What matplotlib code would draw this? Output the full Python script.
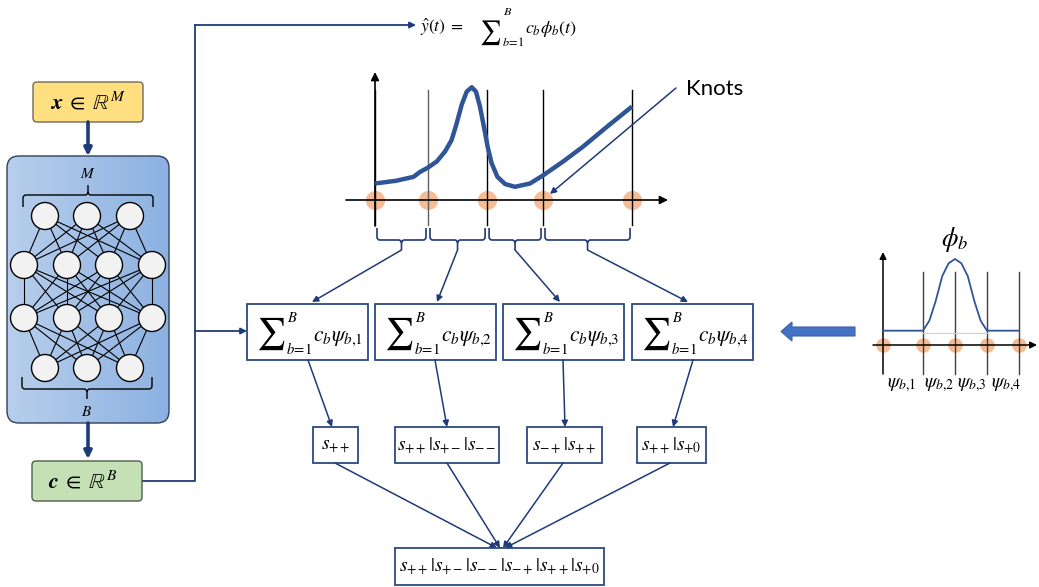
import numpy as np
import matplotlib
matplotlib.use("Agg")
import matplotlib.pyplot as plt
from matplotlib.patches import FancyBboxPatch, Rectangle, Circle, FancyArrow
from matplotlib.path import Path
from matplotlib.patches import PathPatch
from matplotlib.transforms import Affine2D

plt.rcParams["mathtext.fontset"] = "stix"

# ---------------------------------------------------------------- data
layer_sizes = [3, 4, 4, 3]
input_label = r"$\mathbfit{x}\;\in\;\mathbb{R}^{M}$"
coef_label = r"$\mathbfit{c}\;\in\;\mathbb{R}^{B}$"

# example output curve y(t) and its knots
knot_t = [0.0, 2.0, 4.23, 6.34, 9.7]
curve_t = [0.0, 0.8, 1.45, 1.7, 2.0, 2.33, 2.64, 2.89, 3.08, 3.27, 3.46, 3.65,
           3.81, 3.96, 4.11, 4.25, 4.4, 4.62, 4.91, 5.28, 5.85, 6.35, 7.1,
           7.85, 8.75, 9.7]
curve_v = [1.5, 1.75, 2.1, 2.55, 2.95, 3.5, 4.4, 5.45, 6.95, 8.65, 9.85, 10.25,
           9.85, 8.5, 6.65, 4.85, 3.35, 2.1, 1.45, 1.2, 1.5, 2.25, 3.5,
           4.85, 6.65, 8.5]

# single basis function phi_b and its knots
basis_knot_u = [0.0, 1.25, 2.25, 3.25, 4.25]
phi_u = [0.0, 1.25, 1.45, 1.65, 1.85, 2.05, 2.25, 2.45, 2.65, 2.85, 3.05, 3.25, 4.25]
phi_v = [1.0, 1.0, 1.7, 3.1, 4.8, 5.7, 6.0, 5.7, 4.8, 3.1, 1.7, 1.0, 1.0]

segments = [1, 2, 3, 4]
segment_states = [["++"], ["++", "+-", "--"], ["-+", "++"], ["++", "+0"]]

# ---------------------------------------------------------------- styles
NAVY = "#1F3A78"
BOX_EDGE = "#2B4A80"
CURVE = "#2F5597"
KNOT = "#F4B183"

fig = plt.figure(figsize=(10.39, 5.87), dpi=100)
ax = fig.add_axes([0, 0, 1, 1])
ax.set_xlim(0, 1039)
ax.set_ylim(587, 0)
ax.axis("off")
renderer = fig.canvas.get_renderer()


def extent(artist):
    bb = artist.get_window_extent(renderer)
    (x0, y0), (x1, y1) = ax.transData.inverted().transform([[bb.x0, bb.y0], [bb.x1, bb.y1]])
    return min(x0, x1), min(y0, y1), max(x0, x1), max(y0, y1)


def arrow(p0, p1, lw=1.1, color=NAVY, ms=9):
    ax.annotate("", xy=p1, xytext=p0,
                arrowprops=dict(arrowstyle="-|>", color=color, lw=lw,
                                mutation_scale=ms, shrinkA=0, shrinkB=0))


def box(x0, y0, x1, y1, ec=BOX_EDGE, fc="white", lw=1.3):
    ax.add_patch(Rectangle((x0, y0), x1 - x0, y1 - y0, fc=fc, ec=ec, lw=lw, zorder=3))


def brace(x0, x1, y_end, y_bar, y_tip, color, lw=1.2):
    r = 3 if y_tip > y_bar else -3
    xm = (x0 + x1) / 2
    verts = [(x0, y_end), (x0, y_bar - r), (x0, y_bar), (x0 + 3, y_bar),
             (xm - 3, y_bar), (xm, y_bar), (xm, y_bar + r), (xm, y_tip),
             (xm, y_bar + r), (xm, y_bar), (xm + 3, y_bar),
             (x1 - 3, y_bar), (x1, y_bar), (x1, y_bar - r), (x1, y_end)]
    codes = [Path.MOVETO, Path.LINETO, Path.CURVE3, Path.CURVE3,
             Path.LINETO, Path.CURVE3, Path.CURVE3, Path.LINETO,
             Path.MOVETO, Path.CURVE3, Path.CURVE3,
             Path.LINETO, Path.CURVE3, Path.CURVE3, Path.LINETO]
    ax.add_patch(PathPatch(Path(verts, codes), fc="none", ec=color, lw=lw, zorder=4))


def sum_expr(x, yc, term, size, big, sup_dy, sub_dy, base_dy):
    """Sum with limits at the side: sigma at x, centred on yc, then the term."""
    s = ax.text(x, yc, r"$\sum$", fontsize=big, ha="left", va="center", zorder=5)
    sx1 = extent(s)[2]
    sup = ax.text(sx1 + 1.5, yc + sup_dy, r"$B$", fontsize=size * 0.68,
                  ha="left", va="center", zorder=5)
    sub = ax.text(sx1 + 0.5, yc + sub_dy, r"$b\!=\!1$", fontsize=size * 0.68,
                  ha="left", va="center", zorder=5)
    right = max(extent(sup)[2], extent(sub)[2])
    ax.text(right + 1.5, yc + base_dy, "$" + term + "$", fontsize=size,
            ha="left", va="baseline", zorder=5)


# ---------------------------------------------------------------- network
ax.add_patch(FancyBboxPatch((33, 82), 110, 40, boxstyle="round,pad=0,rounding_size=4",
                            fc="#FFDF80", ec="#6F6A5A", lw=1.0, zorder=3))
ax.text(88, 102, input_label, fontsize=16, ha="center", va="center", zorder=5)
arrow((88, 122), (88, 156), lw=2.6, ms=11)

nn_patch = FancyBboxPatch((7, 156), 162, 267, boxstyle="round,pad=0,rounding_size=12",
                          fc="none", ec="#2F3F5F", lw=1.0, zorder=3)
ax.add_patch(nn_patch)
grad = np.linspace(0, 1, 256).reshape(1, -1)
cmap = matplotlib.colors.LinearSegmentedColormap.from_list("nn", ["#B8CFEC", "#8CB1E1"])
im = ax.imshow(grad, extent=(7, 169, 423, 156), cmap=cmap, aspect="auto", zorder=1)
im.set_clip_path(nn_patch)

layer_y = [216, 265, 318, 368]
layer_x = {3: [45, 87, 130], 4: [24, 67, 109, 152]}
node_pos = [[(x, y) for x in layer_x[n]] for n, y in zip(layer_sizes, layer_y)]
for la, lb in zip(node_pos[:-1], node_pos[1:]):
    for (xa, ya) in la:
        for (xb, yb) in lb:
            ax.plot([xa, xb], [ya, yb], color="black", lw=0.8, zorder=2)
for layer in node_pos:
    for (x, y) in layer:
        ax.add_patch(Circle((x, y), 13.5, fc="#F2F2F2", ec="black", lw=1.0, zorder=4))

brace(23, 153, 207, 195, 185, "black", lw=1.0)
ax.text(88, 174, "$M$", fontsize=11, ha="center", va="center")
brace(22, 152, 377, 389, 399, "black", lw=1.0)
ax.text(87, 412, "$B$", fontsize=11, ha="center", va="center")

arrow((88, 423), (88, 459), lw=2.6, ms=11)
ax.add_patch(FancyBboxPatch((32, 461), 110, 40, boxstyle="round,pad=0,rounding_size=4",
                            fc="#C5E0B4", ec="#4F5F4F", lw=1.0, zorder=3))
ax.text(83, 481, coef_label, fontsize=16, ha="center", va="center", zorder=5)

# connector to the output formula and to the first segment
ax.plot([142, 195, 195], [481, 481, 25], color=NAVY, lw=1.3)
arrow((195, 25), (416, 25), lw=1.3)
arrow((195, 331), (247, 331), lw=1.3)

# output formula
ax.text(420, 32, r"$\hat{y}(t)\;=$", fontsize=12.5, ha="left", va="baseline")
sum_expr(479, 32.5, r"c_b\phi_b(t)", 13, 17, -21, 10, 0.5)

# ---------------------------------------------------------------- example curve
tf = Affine2D().scale(26.5, -11.0).translate(375, 200) + ax.transData
ax.annotate("", xy=(668, 200), xytext=(346, 200),
            arrowprops=dict(arrowstyle="-|>", color="black", lw=1.2,
                            mutation_scale=12, shrinkA=0, shrinkB=0))
ax.annotate("", xy=(375, 72), xytext=(375, 226),
            arrowprops=dict(arrowstyle="-|>", color="black", lw=1.2,
                            mutation_scale=12, shrinkA=0, shrinkB=0))
for i, t in enumerate(knot_t):
    ax.plot([t, t], [-2.3, 10.0], transform=tf,
            color="#606060" if i == 1 else "black", lw=1.0, zorder=2)
ax.scatter(knot_t, [0] * len(knot_t), s=190, color=KNOT, alpha=0.85,
           transform=tf, zorder=1, lw=0)
ax.plot(curve_t, curve_v, transform=tf, color=CURVE, lw=3.2,
        solid_capstyle="butt", solid_joinstyle="round", zorder=3)

brace_tips = []
for a, b in zip(knot_t[:-1], knot_t[1:]):
    x0 = 375 + 26.5 * a + 2
    x1 = 375 + 26.5 * b - 2
    brace(x0, x1, 228, 240, 250, NAVY, lw=1.2)
    brace_tips.append(((x0 + x1) / 2, 250))

ax.text(686, 89, "Knots", fontsize=16, family="Lato", ha="left", va="center")
arrow((676, 88), (550, 194), lw=1.1)

# ---------------------------------------------------------------- segment sums
sum_boxes = [(247, 368), (375, 496), (503, 624), (632, 753)]
top_tips = [312, 437, 560, 688]
bottom_x = [308, 435, 563, 693]
for k, (x0, x1), tip, (bx, by) in zip(segments, sum_boxes, top_tips, brace_tips):
    box(x0, 304, x1, 360)
    sum_expr(x0 + 9, 334, r"c_b\psi_{b{,}%d}" % k, 15.5, 23, -17, 15, 7)
    arrow((bx, by), (tip, 302))

# basis function inset
arrow_block = FancyArrow(855, 331.5, -63, 0, width=9, head_width=19, head_length=11,
                         length_includes_head=False, fc="#4472C4", ec="#3A62A8", lw=0.8)
ax.add_patch(arrow_block)

tf2 = Affine2D().scale(32.0, -14.33).translate(883, 345) + ax.transData
ax.annotate("", xy=(1037, 345), xytext=(873, 345),
            arrowprops=dict(arrowstyle="-|>", color="black", lw=1.1,
                            mutation_scale=10, shrinkA=0, shrinkB=0))
ax.annotate("", xy=(883, 252), xytext=(883, 374),
            arrowprops=dict(arrowstyle="-|>", color="black", lw=1.1,
                            mutation_scale=10, shrinkA=0, shrinkB=0))
for u in basis_knot_u[1:]:
    ax.plot([u, u], [-2.0, 5.1], transform=tf2, color="#404040", lw=1.0, zorder=2)
ax.scatter(basis_knot_u, [0] * len(basis_knot_u), s=110, color=KNOT, alpha=0.85,
           transform=tf2, zorder=1, lw=0)
ax.plot([basis_knot_u[1], basis_knot_u[3]], [0.85, 0.85], transform=tf2,
        color="#C8D0E0", lw=0.8, zorder=2)
ax.plot(phi_u, phi_v, transform=tf2, color=CURVE, lw=1.3, zorder=3)
ax.text(955, 240, r"$\phi_b$", fontsize=19, ha="center", va="center")
psi_x = [902, 939, 972, 1006]
for k, x in zip(segments, psi_x):
    ax.text(x, 385, r"$\psi_{b{,}%d}$" % k, fontsize=14, ha="center", va="center")

# ---------------------------------------------------------------- sign states
state_boxes = [(313, 358), (395, 499), (527, 602), (637, 706)]
state_tops = [332, 447, 565, 673]
state_bottoms = [335, 447, 563, 670]
merge_tips = [497, 500, 503, 505]
for states, (x0, x1), bx, tx, sx, mx in zip(segment_states, state_boxes, bottom_x,
                                           state_tops, state_bottoms, merge_tips):
    arrow((bx, 360), (tx, 427))
    box(x0, 427, x1, 463)
    txt = "|".join("s_{%s}" % s for s in states)
    ax.text((x0 + x1) / 2, 446, "$" + txt + "$", fontsize=14, ha="center", va="center",
            zorder=5)
    arrow((sx, 463), (mx, 548))

# neighbouring segments share their boundary state, so repeats collapse
merged = []
for states in segment_states:
    for s in states:
        if not merged or merged[-1] != s:
            merged.append(s)
box(395, 548, 604, 585)
ax.text(499.5, 567, "$" + "|".join("s_{%s}" % s for s in merged) + "$",
        fontsize=14, ha="center", va="center", zorder=5)

fig.savefig("out.png", dpi=100)
